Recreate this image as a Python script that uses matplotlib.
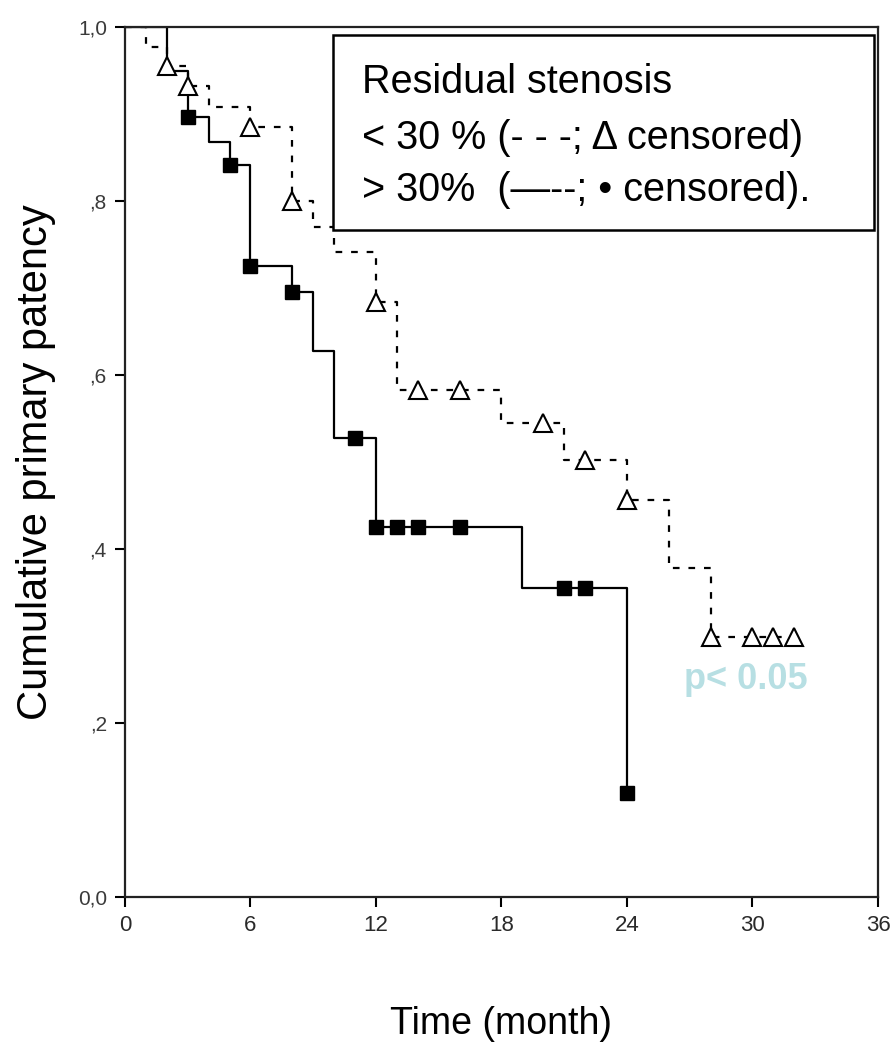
import matplotlib
matplotlib.use("Agg")
import matplotlib.pyplot as plt
from matplotlib.patches import Rectangle

plt.rcParams['font.family'] = ['Liberation Sans', 'DejaVu Sans']

# <30 % residual stenosis (dashed, open triangles = censored)
low_times = [0, 1, 2, 3, 4, 6, 8, 9, 10, 12, 13, 18, 21, 24, 26, 28, 32]
low_surv = [1.0, 0.977, 0.955, 0.932, 0.908, 0.885, 0.80, 0.77, 0.741,
            0.684, 0.583, 0.545, 0.502, 0.456, 0.378, 0.299, 0.299]
low_cens_t = [2, 3, 6, 8, 12, 14, 16, 20, 22, 24, 28, 30, 31, 32]
low_cens_s = [0.955, 0.932, 0.885, 0.80, 0.684, 0.583, 0.583, 0.545,
              0.502, 0.456, 0.299, 0.299, 0.299, 0.299]

# >30 % residual stenosis (solid, filled squares = censored)
high_times = [0, 2, 3, 4, 5, 6, 8, 9, 10, 12, 19, 24]
high_surv = [1.0, 0.949, 0.897, 0.868, 0.841, 0.725, 0.695, 0.628,
             0.528, 0.425, 0.355, 0.12]
high_cens_t = [3, 5, 6, 8, 11, 12, 13, 14, 16, 21, 22, 24]
high_cens_s = [0.897, 0.841, 0.725, 0.695, 0.528, 0.425, 0.425, 0.425,
               0.425, 0.355, 0.355, 0.12]

x_ticks = [0, 6, 12, 18, 24, 30, 36]
y_ticks = [0.0, 0.2, 0.4, 0.6, 0.8, 1.0]
y_tick_labels = ["0,0", ",2", ",4", ",6", ",8", "1,0"]

legend_lines = ["Residual stenosis",
                "< 30 % (- - -; \u0394 censored)",
                "> 30%  (\u2014--; \u2022 censored)."]

fig = plt.figure(figsize=(8.9, 10.46), dpi=100)
ax = fig.add_axes([0.1404, 0.1424, 0.8461, 0.8318])

ax.step(low_times, low_surv, where='post', color='black', lw=1.6,
        linestyle=(0, (3, 4)), zorder=2)
ax.plot(low_cens_t, low_cens_s, linestyle='none', marker='^', ms=12.5,
        mfc='white', mec='black', mew=1.5, zorder=3)

ax.step(high_times, high_surv, where='post', color='black', lw=1.6, zorder=2)
ax.plot(high_cens_t, high_cens_s, linestyle='none', marker='s', ms=10,
        mfc='black', mec='black', zorder=3)

ax.set_xlim(0, 36)
ax.set_ylim(0, 1.0)
ax.set_xticks(x_ticks)
ax.set_xticklabels([str(t) for t in x_ticks], fontsize=16, color='#2a2a2a')
ax.set_yticks(y_ticks)
ax.set_yticklabels(y_tick_labels, fontsize=15, color='#3a3a3a')
ax.tick_params(direction='out', length=7, width=1.5, pad=6)
for sp in ax.spines.values():
    sp.set_linewidth(1.6)
    sp.set_color('#222222')

ax.set_ylabel("Cumulative primary patency", fontsize=30, labelpad=16)
ax.set_xlabel("Time (month)", fontsize=27, labelpad=50)

# legend box
ax.add_patch(Rectangle((0.276, 0.767), 0.719, 0.224, transform=ax.transAxes,
                       facecolor='white', edgecolor='black', lw=1.8, zorder=5))
for yy, line in zip([0.937, 0.872, 0.813], legend_lines):
    ax.text(0.315, yy, line, transform=ax.transAxes, fontsize=28.5,
            va='center', ha='left', zorder=6)

ax.text(0.825, 0.25, "p< 0.05", transform=ax.transAxes, fontsize=26,
        fontweight='bold', color='#b7dfe3', ha='center', va='center')

fig.savefig("out.png", dpi=100)
